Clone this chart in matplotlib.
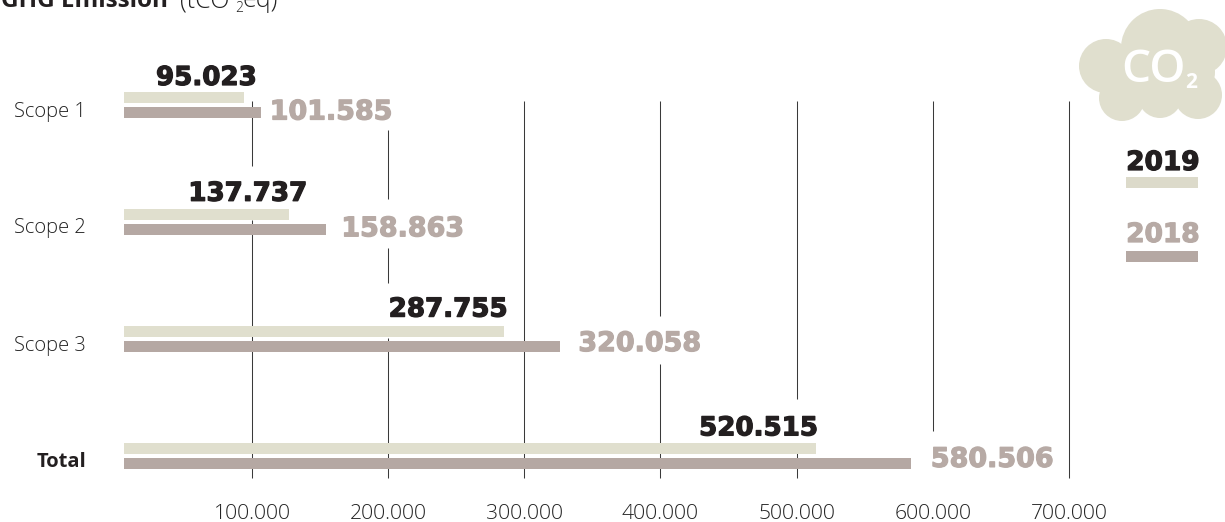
import matplotlib
matplotlib.use("Agg")
import matplotlib.pyplot as plt
import matplotlib.patheffects as pe
from matplotlib.patches import Circle, Rectangle
from matplotlib.transforms import blended_transform_factory

W, H = 1225, 522
categories = ["Scope 1", "Scope 2", "Scope 3", "Total"]
bars_2019 = [94100, 127200, 285000, 514000]
bars_2018 = [106600, 154400, 326200, 584000]
labels_2019 = ["95.023", "137.737", "287.755", "520.515"]
labels_2018 = ["101.585", "158.863", "320.058", "580.506"]
ticks = [100000, 200000, 300000, 400000, 500000, 600000, 700000]
tick_labels = ["100.000", "200.000", "300.000", "400.000", "500.000", "600.000", "700.000"]

COL_2019 = "#e0dfce"
COL_2018 = "#b5a8a3"
DARK = "#231f20"
LIGHT = "#b7aaa5"
GRID = "#3a3a3a"
THIN = "Open Sans"

fig = plt.figure(figsize=(W / 100, H / 100), dpi=100, facecolor="white")

def px_axes(l, t, r, b):
    return fig.add_axes([l / W, 1 - b / H, (r - l) / W, (b - t) / H])

def heavy(col, w=0.9):
    return [pe.withStroke(linewidth=w, foreground=col)]

# overlay in pixel space, for decoration
ov = fig.add_axes([0, 0, 1, 1], zorder=5)
ov.set_xlim(0, W)
ov.set_ylim(H, 0)
ov.axis("off")

ax = px_axes(124, 92, 1069, 478)
ax.set_zorder(2)
ax.patch.set_alpha(0)
PX = 136.17 / 100000
ax.set_xlim((124 - 115.8) / PX, (1069 - 115.8) / PX)
SP = 116.8
ax.set_ylim((478 - 105.5) / SP, (92 - 105.5) / SP)
for s in ax.spines.values():
    s.set_visible(False)
ax.set_xticks([])
ax.set_yticks([])

# gridlines, interrupted where the label backgrounds cover them
spans = [
    [(101, 166), (220, 478)],
    [(130, 199), (248, 283), (338, 478)],
    [(101, 478)],
    [(101, 316), (364, 478)],
    [(101, 399), (443, 478)],
    [(101, 431)],
    [(101, 478)],
]
tr = blended_transform_factory(ax.transData, ov.transData)
for t, segs in zip(ticks, spans):
    for a, b in segs:
        ax.plot([t, t], [a, b], transform=tr, color=GRID, lw=0.75, zorder=1,
                clip_on=False, solid_capstyle="butt")

off = 7.5 / SP
h = 11 / SP
ypos = list(range(len(categories)))
ax.barh([y - off for y in ypos], bars_2019, height=h, color=COL_2019, zorder=3)
ax.barh([y + off for y in ypos], bars_2018, height=h, color=COL_2018, zorder=3)

# value labels, anchored at bar ends
dx_2019 = [-37.5, -41, -55.5, -57]
dy_2019 = [-20, -21, -22, -20]
dx_2018 = [70, 76.5, 79.5, 81]
dy_2018 = [-0.5, -0.5, -2.5, -3.5]
for y, v, s, dx, dy in zip(ypos, bars_2019, labels_2019, dx_2019, dy_2019):
    ax.annotate(s, (v, y - off), xytext=(dx * 0.72, -dy * 0.72), textcoords="offset points",
                ha="center", va="center", family="DejaVu Sans", weight="bold", fontsize=18.8,
                color=DARK, annotation_clip=False, zorder=6, path_effects=heavy(DARK))
for y, v, s, dx, dy in zip(ypos, bars_2018, labels_2018, dx_2018, dy_2018):
    ax.annotate(s, (v, y + off), xytext=(dx * 0.72, -dy * 0.72), textcoords="offset points",
                ha="center", va="center", family="DejaVu Sans", weight="bold", fontsize=19.4,
                color=LIGHT, annotation_clip=False, zorder=6, path_effects=heavy(LIGHT))

# category labels
cat_y = [111.5, 228.5, 346.5, 462]
for c, y in zip(categories, cat_y):
    total = c == "Total"
    ov.text(86, y, c, ha="right", va="center", family=THIN,
            weight="bold" if total else "light", fontsize=14.5,
            color=DARK if total else "#222222")

# x tick labels
for t, s in zip(ticks, tick_labels):
    ov.text(ax.transData.transform((t, 0))[0], 514, s, ha="center", va="center",
            family=THIN, weight="light", fontsize=15.2, color="#222222")

# title, cut by the figure edge as in the source
ov.text(168, 7, "GHG Emission", ha="right", va="baseline", family=THIN, weight="bold",
        fontsize=17.5, color=DARK, clip_on=False)
ov.text(180, 7, "(tCO", ha="left", va="baseline", family=THIN, weight="light",
        fontsize=18, color="#222222")
ov.text(235, 12, "2", ha="left", va="baseline", family=THIN, weight="light",
        fontsize=10, color="#222222")
ov.text(242, 7, "eq)", ha="left", va="baseline", family=THIN, weight="light",
        fontsize=18, color="#222222")

# cloud
for cx, cy, r in [(1106, 66, 27), (1122, 98, 23), (1160, 96, 22), (1198, 95, 24),
                  (1160, 48, 39), (1199, 47, 28), (1150, 72, 33), (1185, 72, 30)]:
    ov.add_patch(Circle((cx, cy), r, color=COL_2019, lw=0))
ov.text(1153, 71, "CO", ha="center", va="center", family="Open Sans", weight="semibold",
        color="white", fontsize=33)
ov.text(1191, 82, "2", ha="center", va="center", family="Open Sans", weight="bold",
        color="white", fontsize=15)

# legend
for txt, col, ty, by, bc in [("2019", DARK, 163, 177, "#dcdaca"), ("2018", LIGHT, 235, 251, COL_2018)]:
    ov.text(1163, ty, txt, ha="center", va="center", family="DejaVu Sans", weight="bold",
            fontsize=19, color=col, path_effects=heavy(col))
    ov.add_patch(Rectangle((1126, by), 72, 11, color=bc, lw=0))

fig.savefig("out.png", dpi=100)
